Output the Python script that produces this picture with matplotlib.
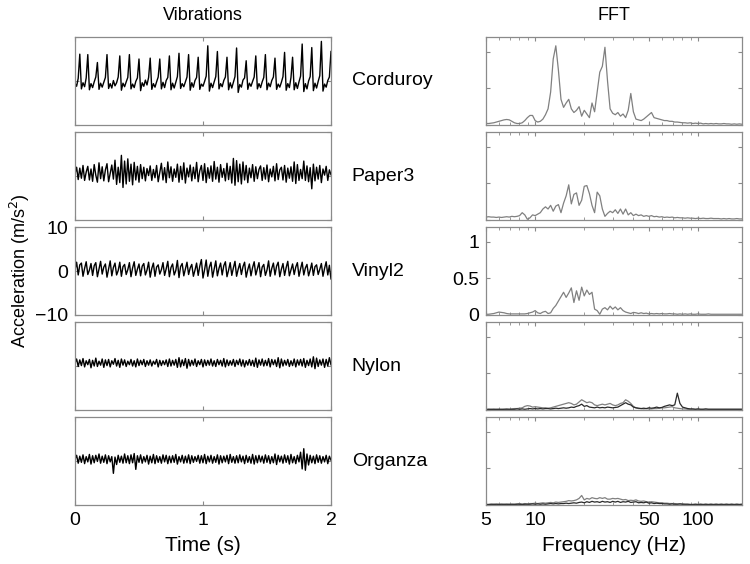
import numpy as np
import matplotlib.pyplot as plt
from matplotlib.ticker import FixedLocator, NullFormatter

plt.rcParams['font.family'] = ['Liberation Sans', 'DejaVu Sans']

materials = ['Corduroy', 'Paper3', 'Vinyl2', 'Nylon', 'Organza']

# acceleration (m/s^2), sampled every 12.5 ms over 2 s
corduroy = [
    -0.5, -1.2, 0.6, 6.1, -1.8, -0.4, -1.3, 0.7, 6.0, -2.0,
    -0.6, -1.5, -0.2, 0.9, 4.2, -1.9, -0.5, -1.4, -0.3, 0.8,
    6.0, -1.7, -0.6, -1.6, 0.1, -1.1, -0.4, 0.9, 5.7, -2.1,
    -0.5, -1.3, -0.2, 0.8, 6.0, -1.8, -0.7, -1.5, -0.1, 0.7,
    5.0, -2.2, -0.4, -1.2, 0.2, -0.9, 0.8, 5.2, -1.9, -0.6,
    -1.4, -0.2, 0.9, 5.0, -1.8, -0.3, -1.5, 0.1, 0.8, 5.7,
    -2.0, -0.5, -1.6, -0.3, 1.0, 6.3, -1.7, -0.6, -1.3, -0.2,
    0.9, 6.0, -2.1, -0.4, -1.4, 0.1, 0.8, 5.4, -1.9, -0.7,
    -1.2, -0.1, 1.1, 8.0, -2.3, -0.5, -1.5, -0.2, 1.0, 6.7,
    -1.8, -0.6, -1.3, 0.1, 0.9, 5.4, -2.0, -0.4, -1.6, -0.3,
    1.0, 7.5, -2.6, -0.8, -1.4, 0.2, 0.7, 4.6, -1.9, -0.5,
    -1.2, -0.1, 0.9, 5.7, -1.8, -0.6, -1.5, -0.2, 0.8, 6.0,
    -2.0, -0.5, -1.3, 0.1, 0.9, 5.2, -1.9, -0.7, -1.4, -0.3,
    1.0, 6.5, -2.1, -0.6, -1.5, 0.8, 5.4, -2.0, -0.4, -1.7,
    -0.2, 1.1, 8.4, -2.4, -0.6, -1.8, 0.0, 1.0, 7.6, -2.2,
    -0.5, -1.6, -0.1, 1.2, 9.0, -2.3, -0.7, -1.4, 0.1, 0.9,
    6.7]

paper3 = [
    0.5, 2.0, -0.8, 1.8, -0.5, 2.4, -1.0, 0.9, 2.2, -0.9,
    1.6, -1.2, 2.6, 0.2, -1.4, 3.0, -0.6, 2.1, -1.1, 1.4,
    2.8, -1.3, 0.6, 2.5, -0.7, 3.6, -1.9, 2.0, -1.5, 4.7,
    -2.6, 3.4, -1.8, 3.9, -1.2, 2.7, -2.0, 3.1, -0.9, 2.2,
    -1.4, 2.6, -0.6, 2.0, -1.1, 1.7, 0.1, 2.3, -1.0, 1.5,
    -0.4, 2.4, -1.3, 0.8, 2.9, -0.9, 1.9, -1.5, 3.2, -0.4,
    2.1, -1.2, 1.6, -0.3, 2.7, -1.4, 2.2, -0.8, 3.0, -1.6,
    1.8, -0.2, 2.5, -1.1, 2.0, -0.6, 3.1, -1.3, 1.2, 2.4,
    -1.0, 2.8, -1.5, 1.9, -0.5, 2.3, -1.2, 3.3, -0.7, 2.0,
    -1.4, 2.6, -0.3, 1.7, -1.1, 2.9, -0.8, 2.2, -1.6, 4.0,
    -2.1, 3.5, -1.3, 2.7, -1.8, 3.2, -0.9, 2.4, -1.5, 1.8,
    -0.4, 2.6, -1.2, 2.1, -0.6, 1.5, 2.3, -1.0, 1.9, -0.7,
    2.5, -1.3, 1.6, -0.2, 2.2, -1.1, 2.8, -0.8, 1.4, 2.0,
    -0.9, 2.4, -1.4, 1.8, -0.5, 2.1, -1.2, 3.2, -1.7, 2.6,
    -1.0, 1.5, -0.6, 3.4, -1.0, 2.3, -1.3, 1.9, -2.9, 2.7,
    -1.1, 2.0, -0.7, 2.4, -1.5, 1.6, 0.2, 2.2, -1.0, 1.4,
    0.3]

vinyl2 = [
    0.3, 2.0, -0.9, 1.4, 1.8, -1.2, 0.6, 2.1, -0.8, 0.2,
    1.7, -1.0, 1.2, 1.9, -1.3, 0.4, 2.2, -0.7, 0.9, 1.6,
    -1.4, 0.5, 2.3, -1.1, 0.8, 1.8, -0.9, 0.1, 2.0, -1.2,
    1.0, 1.5, -0.8, 0.3, 1.9, -1.3, 0.7, 2.1, -1.0, 0.4,
    1.6, -1.1, 1.1, 1.7, -0.9, 0.2, 2.0, -1.4, 0.6, 1.8,
    -1.2, 0.9, 1.4, -0.7, 0.3, 1.9, -1.0, 0.5, 2.2, -1.3,
    0.8, 1.6, -0.9, 0.1, 2.4, -1.5, 1.0, 1.7, -1.1, 0.4,
    2.0, -0.8, 0.7, 1.5, -1.2, 0.2, 1.8, -1.0, 1.1, 2.6,
    -1.6, 0.3, 2.5, -1.2, 0.9, 2.0, -1.4, 0.5, 2.3, -1.1,
    0.6, 1.8, -0.9, 1.2, 2.1, -1.3, 0.2, 1.9, -1.0, 0.7,
    2.2, -1.2, 0.4, 1.7, -0.8, 1.0, 2.0, -1.4, 0.3, 1.6,
    -1.1, 0.8, 2.1, -0.9, 0.5, 1.9, -1.3, 0.9, 1.5, -1.0,
    0.2, 2.3, -1.2, 0.6, 1.8, -0.9, 1.1, 2.0, -1.3, 0.4,
    1.7, -1.0, 0.8, 2.2, -1.1, 0.3, 1.6, -0.8, 0.9, 1.9,
    -1.2, 0.5, 2.0, -0.9, 0.7, 1.5, -1.1, 0.2, 1.8, -1.0,
    1.0, 1.4, -0.8, 0.4, 1.7, -1.2, 0.6, 2.1, -0.9, 1.3,
    -1.8]

nylon = [
    0.7, 1.6, -0.1, 1.4, 0.1, 1.7, -0.2, 1.2, 0.3, 1.5,
    -0.4, 1.3, 0.0, 1.8, -0.1, 1.1, 0.2, 1.6, -0.3, 1.4,
    0.1, 1.5, -0.2, 1.2, 0.4, 1.7, 0.0, 1.3, -0.3, 1.6,
    0.2, 1.4, -0.1, 1.1, 0.3, 1.5, 0.0, 1.2, -0.2, 1.6,
    0.1, 1.3, 0.3, 1.5, -0.1, 1.2, 0.2, 1.4, 0.0, 1.1,
    0.4, 1.5, -0.2, 1.3, 0.1, 1.2, 0.3, 1.4, -0.1, 1.6,
    0.0, 1.3, 0.2, 1.5, -0.3, 1.9, -0.2, 1.4, 0.1, 1.7,
    -0.5, 1.5, 0.0, 1.3, 0.2, 1.6, -0.1, 1.2, 0.3, 1.5,
    -0.2, 1.4, 0.1, 1.3, 0.2, 1.6, 0.0, 1.2, -0.1, 1.5,
    0.3, 1.3, 0.0, 1.7, -0.2, 1.4, 0.1, 1.2, 0.2, 1.5,
    -0.1, 1.3, 0.3, 1.6, 0.0, 1.4, -0.2, 1.2, 0.2, 1.5,
    0.1, 1.3, -0.1, 1.8, -0.3, 1.4, 0.2, 1.6, 0.0, 1.3,
    0.1, 1.7, -0.2, 1.5, 0.3, 1.4, -0.1, 1.9, -0.4, 1.6,
    0.0, 1.3, 0.2, 1.5, -0.1, 1.2, 0.1, 1.6, -0.2, 1.4,
    0.2, 1.5, 0.0, 1.7, -0.3, 1.3, 0.1, 1.6, -0.2, 2.1,
    -0.6, 1.8, -0.1, 1.4, 0.2, 1.6, -0.3, 1.5, 0.0, 1.9,
    0.3]

organza = [
    0.4, 1.3, -0.5, 1.1, -0.3, 1.4, -0.6, 1.0, -0.2, 1.5,
    -0.7, 1.2, -0.4, 1.3, -0.1, 1.6, -0.5, 1.1, -0.3, 1.4,
    -0.6, 1.2, -0.2, 1.0, -2.8, 0.9, -0.8, 1.3, -0.3, 1.1,
    -0.5, 1.6, -0.4, 1.2, -0.6, 1.4, -0.4, 1.7, -1.9, 1.2,
    -0.3, 1.4, -0.5, 1.0, -0.2, 1.3, -0.7, 1.1, -0.4, 1.5,
    -0.6, 1.2, -0.3, 1.0, -0.5, 1.4, -0.2, 1.3, -0.6, 1.1,
    -0.4, 1.2, -0.3, 1.5, -0.7, 1.0, -0.2, 1.3, -0.5, 1.1,
    -0.4, 1.4, -0.6, 1.2, -0.3, 1.0, -0.1, 1.3, -0.5, 1.2,
    -0.4, 1.5, -0.6, 1.1, -0.2, 1.3, -0.5, 1.0, -0.3, 1.4,
    -0.7, 1.2, -0.4, 1.1, -0.2, 1.3, -0.6, 1.5, -0.3, 1.0,
    -0.5, 1.2, -0.4, 1.4, -0.2, 1.1, -0.6, 1.3, -0.3, 1.0,
    -0.5, 1.5, -0.7, 1.2, -0.4, 1.3, -0.2, 1.1, -0.5, 1.4,
    -0.3, 1.2, -0.6, 1.0, -0.4, 1.6, -0.8, 1.3, -0.2, 1.1,
    -0.5, 1.4, -0.3, 1.2, -0.7, 1.5, -0.4, 1.0, -0.6, 1.3,
    -0.2, 2.0, -1.8, 2.8, -2.1, 1.6, -0.9, 1.3, -0.4, 1.1,
    -0.6, 1.4, -0.3, 1.2, -0.5, 1.0, -0.2, 1.3, -0.6, 1.1,
    0.2]

# FFT magnitude, 100 log-spaced bins from 5 Hz to 186 Hz
fft_corduroy = [
    0.02, 0.02, 0.025, 0.03, 0.04, 0.05, 0.06, 0.07, 0.075, 0.07,
    0.05, 0.03, 0.02, 0.02, 0.03, 0.06, 0.1, 0.13, 0.13, 0.06,
    0.04, 0.05, 0.08, 0.14, 0.22, 0.45, 0.9, 1.08, 0.75, 0.35,
    0.24, 0.3, 0.35, 0.22, 0.17, 0.2, 0.25, 0.12, 0.2, 0.15,
    0.1, 0.3, 0.18, 0.45, 0.72, 0.8, 1.06, 0.6, 0.22, 0.16,
    0.14, 0.17, 0.12, 0.15, 0.1, 0.2, 0.43, 0.18, 0.08, 0.07,
    0.06, 0.08, 0.11, 0.14, 0.17, 0.1, 0.09, 0.08, 0.07, 0.06,
    0.06, 0.05, 0.05, 0.04, 0.04, 0.035, 0.03, 0.03, 0.025, 0.03,
    0.02, 0.025, 0.02, 0.025, 0.015, 0.02, 0.015, 0.02, 0.015, 0.02,
    0.015, 0.015, 0.02, 0.015, 0.015, 0.01, 0.015, 0.01, 0.015, 0.01]

fft_paper3 = [
    0.04, 0.045, 0.04, 0.04, 0.035, 0.04, 0.035, 0.04, 0.045, 0.04,
    0.05, 0.045, 0.05, 0.06, 0.1, 0.07, 0.01, 0.03, 0.07, 0.06,
    0.08, 0.1, 0.15, 0.18, 0.15, 0.2, 0.12, 0.19, 0.21, 0.1,
    0.23, 0.33, 0.48, 0.22, 0.35, 0.37, 0.2, 0.27, 0.46, 0.47,
    0.36, 0.2, 0.1, 0.38, 0.33, 0.15, 0.05, 0.09, 0.12, 0.1,
    0.14, 0.09, 0.15, 0.08, 0.15, 0.07, 0.1, 0.06, 0.08, 0.06,
    0.07, 0.05, 0.06, 0.05, 0.06, 0.045, 0.05, 0.04, 0.045, 0.035,
    0.04, 0.035, 0.04, 0.03, 0.035, 0.03, 0.03, 0.025, 0.03, 0.025,
    0.025, 0.02, 0.025, 0.02, 0.025, 0.02, 0.02, 0.025, 0.02, 0.02,
    0.02, 0.015, 0.02, 0.015, 0.02, 0.015, 0.015, 0.02, 0.015, 0.015]

fft_vinyl2 = [
    0.01, 0.01, 0.015, 0.02, 0.03, 0.04, 0.035, 0.03, 0.02, 0.015,
    0.015, 0.015, 0.015, 0.015, 0.015, 0.015, 0.02, 0.03, 0.04, 0.06,
    0.03, 0.02, 0.04, 0.05, 0.02, 0.03, 0.09, 0.13, 0.19, 0.25,
    0.31, 0.24, 0.3, 0.37, 0.17, 0.33, 0.2, 0.38, 0.26, 0.34,
    0.28, 0.31, 0.08, 0.06, 0.01, 0.08, 0.1, 0.07, 0.12, 0.08,
    0.11, 0.07, 0.1, 0.06, 0.04, 0.03, 0.02, 0.035, 0.03, 0.02,
    0.03, 0.02, 0.025, 0.015, 0.02, 0.015, 0.02, 0.015, 0.02, 0.015,
    0.015, 0.02, 0.015, 0.015, 0.01, 0.015, 0.01, 0.015, 0.01, 0.015,
    0.01, 0.01, 0.015, 0.01, 0.01, 0.01, 0.015, 0.01, 0.01, 0.01,
    0.01, 0.01, 0.01, 0.01, 0.01, 0.01, 0.01, 0.01, 0.01, 0.01]

fft_nylon_a = [
    0.01, 0.01, 0.015, 0.01, 0.015, 0.01, 0.015, 0.01, 0.015, 0.01,
    0.015, 0.02, 0.02, 0.025, 0.03, 0.05, 0.06, 0.055, 0.04, 0.045,
    0.04, 0.035, 0.03, 0.03, 0.025, 0.03, 0.04, 0.05, 0.06, 0.07,
    0.08, 0.09, 0.1, 0.09, 0.07, 0.08, 0.11, 0.14, 0.12, 0.1,
    0.11, 0.1, 0.07, 0.06, 0.07, 0.08, 0.07, 0.08, 0.09, 0.07,
    0.06, 0.07, 0.09, 0.1, 0.14, 0.12, 0.09, 0.05, 0.03, 0.02,
    0.02, 0.015, 0.02, 0.015, 0.015, 0.02, 0.02, 0.025, 0.03, 0.03,
    0.035, 0.04, 0.045, 0.03, 0.025, 0.02, 0.015, 0.015, 0.01, 0.01,
    0.01, 0.01, 0.01, 0.01, 0.01, 0.01, 0.01, 0.01, 0.01, 0.01,
    0.01, 0.01, 0.01, 0.01, 0.01, 0.01, 0.01, 0.01, 0.01, 0.01]

fft_nylon_b = [
    0.005, 0.01, 0.005, 0.01, 0.005, 0.01, 0.005, 0.01, 0.01, 0.01,
    0.01, 0.01, 0.015, 0.01, 0.015, 0.01, 0.015, 0.02, 0.015, 0.02,
    0.015, 0.02, 0.015, 0.02, 0.02, 0.015, 0.02, 0.025, 0.02, 0.025,
    0.03, 0.025, 0.03, 0.04, 0.035, 0.05, 0.06, 0.08, 0.05, 0.06,
    0.04, 0.035, 0.03, 0.04, 0.03, 0.035, 0.03, 0.04, 0.035, 0.03,
    0.035, 0.04, 0.06, 0.08, 0.1, 0.08, 0.07, 0.04, 0.03, 0.025,
    0.02, 0.025, 0.02, 0.03, 0.025, 0.03, 0.04, 0.03, 0.035, 0.05,
    0.06, 0.07, 0.06, 0.07, 0.23, 0.09, 0.04, 0.03, 0.02, 0.015,
    0.015, 0.01, 0.015, 0.01, 0.01, 0.015, 0.01, 0.01, 0.01, 0.01,
    0.01, 0.01, 0.01, 0.01, 0.01, 0.01, 0.01, 0.01, 0.01, 0.01]

fft_organza_a = [
    0.01, 0.01, 0.01, 0.015, 0.01, 0.015, 0.01, 0.015, 0.01, 0.015,
    0.01, 0.015, 0.015, 0.02, 0.015, 0.02, 0.015, 0.02, 0.02, 0.025,
    0.02, 0.025, 0.03, 0.025, 0.03, 0.035, 0.03, 0.04, 0.035, 0.04,
    0.045, 0.05, 0.06, 0.055, 0.06, 0.07, 0.09, 0.13, 0.07, 0.09,
    0.08, 0.1, 0.09, 0.085, 0.1, 0.09, 0.1, 0.08, 0.08, 0.09,
    0.085, 0.09, 0.08, 0.07, 0.075, 0.06, 0.065, 0.06, 0.07, 0.055,
    0.05, 0.055, 0.045, 0.04, 0.045, 0.04, 0.035, 0.03, 0.03, 0.025,
    0.025, 0.02, 0.02, 0.02, 0.015, 0.015, 0.015, 0.01, 0.01, 0.01,
    0.01, 0.01, 0.01, 0.01, 0.01, 0.01, 0.01, 0.01, 0.01, 0.01,
    0.01, 0.01, 0.01, 0.01, 0.01, 0.01, 0.01, 0.01, 0.01, 0.01]

fft_organza_b = [
    0.005, 0.005, 0.01, 0.005, 0.01, 0.005, 0.01, 0.005, 0.01, 0.005,
    0.01, 0.005, 0.01, 0.01, 0.005, 0.01, 0.01, 0.01, 0.015, 0.01,
    0.015, 0.01, 0.015, 0.01, 0.015, 0.02, 0.015, 0.02, 0.015, 0.02,
    0.02, 0.025, 0.02, 0.025, 0.03, 0.025, 0.035, 0.04, 0.03, 0.045,
    0.035, 0.05, 0.04, 0.045, 0.035, 0.05, 0.04, 0.045, 0.035, 0.05,
    0.04, 0.05, 0.035, 0.045, 0.04, 0.05, 0.035, 0.04, 0.045, 0.03,
    0.035, 0.03, 0.04, 0.025, 0.03, 0.02, 0.025, 0.02, 0.02, 0.015,
    0.015, 0.01, 0.015, 0.01, 0.01, 0.015, 0.01, 0.01, 0.01, 0.005,
    0.005, 0.01, 0.005, 0.01, 0.005, 0.01, 0.005, 0.01, 0.005, 0.01,
    0.005, 0.01, 0.005, 0.01, 0.005, 0.01, 0.005, 0.01, 0.005, 0.01]

signals = [corduroy, paper3, vinyl2, nylon, organza]
spectra = [[fft_corduroy], [fft_paper3], [fft_vinyl2],
           [fft_nylon_a, fft_nylon_b], [fft_organza_a, fft_organza_b]]
spec_colors = ['#808080', '#2a2a2a']

# layout in figure fractions
left_x, right_x, ax_w = 0.100, 0.648, 0.3413
row_bottoms = [0.7784, 0.6099, 0.4415, 0.2730, 0.1046]
ax_h = 0.156
frame = '#8a8a8a'


def style(ax):
    for s in ax.spines.values():
        s.set_color(frame)
        s.set_linewidth(0.9)
    ax.tick_params(which='both', direction='in', top=True, right=True,
                   color=frame, labelsize=14, pad=5)
    ax.tick_params(which='major', length=3)
    ax.tick_params(which='minor', length=2)


fig = plt.figure(figsize=(7.5, 5.64), dpi=100)

for k in range(5):
    # time signal
    ax = fig.add_axes([left_x, row_bottoms[k], ax_w, ax_h])
    y = signals[k]
    t = np.linspace(0, 2, len(y))
    ax.plot(t, y, color='black', lw=1.0)
    ax.set_xlim(0, 2)
    ax.set_ylim(-10, 10)
    ax.set_xticks([0, 1, 2])
    ax.set_yticks([-10, 0, 10])
    style(ax)
    if k != 4:
        ax.set_xticklabels([])
    else:
        ax.set_xlabel('Time (s)', fontsize=15, labelpad=5)
    if k != 2:
        ax.set_yticklabels([])

    # spectrum
    ax2 = fig.add_axes([right_x, row_bottoms[k], ax_w, ax_h])
    for j, s in enumerate(spectra[k]):
        f = np.geomspace(5, 186, len(s))
        ax2.plot(f, s, color=spec_colors[j], lw=0.9)
    ax2.set_xscale('log')
    ax2.set_xlim(5, 186)
    ax2.set_ylim(0, 1.2)
    ax2.xaxis.set_major_locator(FixedLocator([5, 10, 50, 100]))
    ax2.xaxis.set_minor_locator(FixedLocator([6, 7, 8, 9, 20, 30, 40, 60, 70, 80, 90]))
    ax2.xaxis.set_minor_formatter(NullFormatter())
    ax2.set_yticks([0, 0.5, 1])
    style(ax2)
    if k != 4:
        ax2.set_xticklabels([])
    else:
        ax2.set_xticklabels(['5', '10', '50', '100'])
        ax2.set_xlabel('Frequency (Hz)', fontsize=15, labelpad=5)
    if k != 2:
        ax2.set_yticklabels([])
    else:
        ax2.set_yticklabels(['0', '0.5', '1'])

    fig.text(0.469, row_bottoms[k] + ax_h / 2, materials[k],
             fontsize=14, va='center', ha='left')

fig.text(0.271, 0.972, 'Vibrations', fontsize=13, ha='center', va='center')
fig.text(0.819, 0.972, 'FFT', fontsize=13, ha='center', va='center')
fig.text(0.027, 0.52, 'Acceleration (m/s$^2$)', fontsize=13,
         rotation=90, ha='center', va='center')

fig.savefig('out.png', dpi=100)
